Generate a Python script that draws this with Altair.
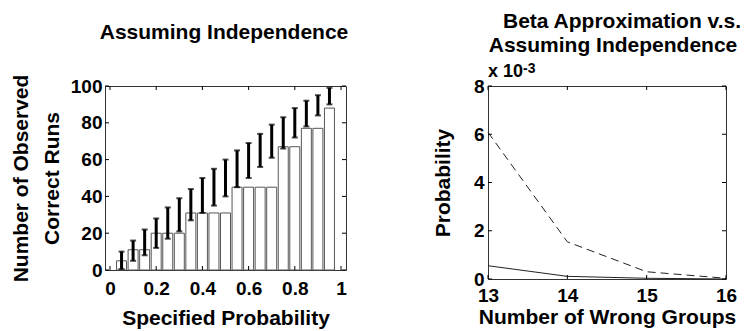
import altair as alt
import pandas as pd

# ---- left panel data ----
probs = [0.05, 0.10, 0.15, 0.20, 0.25, 0.30, 0.35, 0.40, 0.45, 0.50,
         0.55, 0.60, 0.65, 0.70, 0.75, 0.80, 0.85, 0.90, 0.95]
observed = [5, 11, 11, 20, 20, 20, 31, 31, 31, 31, 45, 45, 45, 45, 67, 67, 77, 77, 88]
err_low = [0.5, 5, 8, 12, 17, 21, 27, 31, 35, 40, 45, 50, 56, 61, 66, 72, 78, 84, 90]
err_high = [10, 16, 22, 28, 34, 39, 44, 50, 55, 60, 65, 69, 74, 79, 83, 88, 92, 95, 99]
x_ticks_left = [0, 0.2, 0.4, 0.6, 0.8, 1]
y_ticks_left = [0, 20, 40, 60, 80, 100]
left_title = "Assuming Independence"

# ---- right panel data (units of 10^-3) ----
groups = [13, 14, 15, 16]
beta_approx = [0.55, 0.11, 0.03, 0.0]
independence = [6.08, 1.54, 0.30, 0.03]
x_ticks_right = [13, 14, 15, 16]
y_ticks_right = [0, 2, 4, 6, 8]
right_title = ["Beta Approximation v.s.", "Assuming Independence"]

FONT = "Liberation Sans"
LW, LH = 241, 184
RW, RH = 238, 193
TICK = 4

left_df = pd.DataFrame({"p": probs, "obs": observed, "lo": err_low, "hi": err_high})
right_df = pd.DataFrame({"g": groups, "beta": beta_approx, "ind": independence})
one = pd.DataFrame({"a": [0]})


def label(text, x, y, size=21, align="center"):
    return alt.Chart(one).mark_text(align=align, baseline="alphabetic", font=FONT, fontSize=size,
                                    fontWeight="bold", color="black").encode(
        x=alt.value(x), y=alt.value(y), text=alt.value(text))


AX = dict(labelOverlap=False, labelFlush=False, labelBound=False, grid=False, domain=False,
          ticks=False, labelSeparation=0)

ax_xl = alt.Axis(values=x_ticks_left, format="~g", title="Specified Probability",
                 labelPadding=9, titlePadding=9, **AX)
ax_yl = alt.Axis(values=y_ticks_left, title=["Number of Observed", "Correct Runs"],
                 labelPadding=3, titlePadding=8, titleLineHeight=31, **AX)
sc_xl = alt.Scale(domain=[0, 1], nice=False)
sc_yl = alt.Scale(domain=[0, 100], nice=False)


def xl(f):
    return alt.X(f, type="quantitative", scale=sc_xl, axis=ax_xl)


def yl(f):
    return alt.Y(f, type="quantitative", scale=sc_yl, axis=ax_yl)


bars = alt.Chart(left_df).mark_bar(fill="white", stroke="#555", strokeWidth=1, size=10).encode(x=xl("p"), y=yl("obs"))
err = alt.Chart(left_df).mark_rule(color="black", strokeWidth=3).encode(x=xl("p"), y=yl("lo"), y2="hi:Q")
cap_lo = alt.Chart(left_df).mark_tick(color="black", thickness=2, size=6, orient="horizontal").encode(x=xl("p"), y=yl("lo"))
cap_hi = alt.Chart(left_df).mark_tick(color="black", thickness=2, size=6, orient="horizontal").encode(x=xl("p"), y=yl("hi"))

xt_l = pd.DataFrame({"t": x_ticks_left})
yt_l = pd.DataFrame({"t": y_ticks_left})
tk_lb = alt.Chart(xt_l).mark_rule(color="black", strokeWidth=1).encode(x=xl("t"), y=alt.value(LH), y2=alt.value(LH - TICK))
tk_lt = alt.Chart(xt_l).mark_rule(color="black", strokeWidth=1).encode(x=xl("t"), y=alt.value(0), y2=alt.value(TICK))
tk_ll = alt.Chart(yt_l).mark_rule(color="black", strokeWidth=1).encode(y=yl("t"), x=alt.value(0), x2=alt.value(TICK))
tk_lr = alt.Chart(yt_l).mark_rule(color="black", strokeWidth=1).encode(y=yl("t"), x=alt.value(LW), x2=alt.value(LW - TICK))

left = alt.layer(bars, tk_lb, tk_lt, tk_ll, tk_lr, err, cap_lo, cap_hi,
                 label(left_title, 119, -47)).properties(width=LW, height=LH)

ax_xr = alt.Axis(values=x_ticks_right, format="d", title="Number of Wrong Groups",
                 labelPadding=7, titlePadding=1, **AX)
ax_yr = alt.Axis(values=y_ticks_right, title="Probability", labelPadding=4, titlePadding=20, **AX)
sc_xr = alt.Scale(domain=[13, 16], nice=False)
sc_yr = alt.Scale(domain=[0, 8], nice=False)


def xr(f):
    return alt.X(f, type="quantitative", scale=sc_xr, axis=ax_xr)


def yr(f):
    return alt.Y(f, type="quantitative", scale=sc_yr, axis=ax_yr)


line_ind = alt.Chart(right_df).mark_line(color="#222", strokeWidth=1, strokeDash=[8, 5]).encode(x=xr("g"), y=yr("ind"))
line_beta = alt.Chart(right_df).mark_line(color="#222", strokeWidth=1).encode(x=xr("g"), y=yr("beta"))

xt_r = pd.DataFrame({"t": x_ticks_right})
yt_r = pd.DataFrame({"t": y_ticks_right})
tk_rb = alt.Chart(xt_r).mark_rule(color="black", strokeWidth=1).encode(x=xr("t"), y=alt.value(RH), y2=alt.value(RH - TICK))
tk_rt = alt.Chart(xt_r).mark_rule(color="black", strokeWidth=1).encode(x=xr("t"), y=alt.value(0), y2=alt.value(TICK))
tk_rl = alt.Chart(yt_r).mark_rule(color="black", strokeWidth=1).encode(y=yr("t"), x=alt.value(0), x2=alt.value(TICK))
tk_rr = alt.Chart(yt_r).mark_rule(color="black", strokeWidth=1).encode(y=yr("t"), x=alt.value(RW), x2=alt.value(RW - TICK))

right = alt.layer(line_ind, line_beta, tk_rb, tk_rt, tk_rl, tk_rr,
                  label(right_title[0], 134, -58),
                  label(right_title[1], 125, -34),
                  label("x 10", 0, -9, size=18, align="left"),
                  label("-3", 35, -13, size=14, align="left")).properties(width=RW, height=RH)

chart = alt.hconcat(left, right, spacing=142, bounds="flush").properties(
    padding={"left": 9, "top": 10, "right": 5, "bottom": 5},
    background="white"
).configure_view(stroke="#333", strokeWidth=1).configure_axis(
    labelFont=FONT, labelFontSize=19, labelFontWeight="bold", labelColor="black",
    titleFont=FONT, titleFontSize=21, titleFontWeight="bold", titleColor="black",
)

chart.save("out.html", embed_options={"renderer": "svg", "actions": False})
